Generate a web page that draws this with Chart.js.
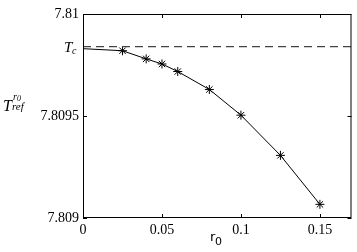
<!DOCTYPE html>
<html>
<head>
<meta charset="utf-8">
<script src="https://cdn.jsdelivr.net/npm/chart.js@4/dist/chart.umd.min.js"></script>
<style>
  html, body { margin: 0; padding: 0; background: #fff; }
  #wrap { width: 357px; height: 252px; }
</style>
</head>
<body>
<div id="wrap"><canvas id="myChart"></canvas></div>
<script>
var r0 = [0, 0.025, 0.04, 0.05, 0.06, 0.08, 0.1, 0.125, 0.15];
var tref = [7.80983, 7.80982, 7.80978, 7.809755, 7.809718, 7.80963, 7.809504, 7.809307, 7.809067];
var tc = 7.80984;
var xTicks = [0, 0.05, 0.1, 0.15];
var xLabels = ["0", "0.05", "0.1", "0.15"];
var yTicks = [7.809, 7.8095, 7.81];
var yLabels = ["7.809", "7.8095", "7.81"];

var serif = "'Liberation Serif', 'DejaVu Serif', serif";

// box, inward ticks and the math-style labels
var boxPlugin = {
  id: "box",
  afterDraw: function(chart) {
    var ctx = chart.ctx, a = chart.chartArea;
    var xs = chart.scales.x, ys = chart.scales.y;
    ctx.save();
    ctx.strokeStyle = "#000";
    ctx.lineWidth = 1;
    ctx.strokeRect(a.left + 0.5, a.top + 0.5, a.right - a.left - 1, a.bottom - a.top - 1);
    ctx.beginPath();
    xTicks.forEach(function(v) {
      var px = Math.round(xs.getPixelForValue(v)) + 0.5;
      ctx.moveTo(px, a.bottom); ctx.lineTo(px, a.bottom - 4);
      ctx.moveTo(px, a.top); ctx.lineTo(px, a.top + 4);
    });
    yTicks.forEach(function(v) {
      var py = Math.round(ys.getPixelForValue(v)) + 0.5;
      ctx.moveTo(a.left, py); ctx.lineTo(a.left + 4, py);
      ctx.moveTo(a.right, py); ctx.lineTo(a.right - 4, py);
    });
    ctx.stroke();

    ctx.fillStyle = "#000";
    ctx.textBaseline = "alphabetic";
    // T_c next to the dashed line
    var pc = ys.getPixelForValue(tc);
    ctx.font = "italic 15px " + serif;
    ctx.fillText("T", 64, pc + 5);
    ctx.font = "italic 10px " + serif;
    ctx.fillText("c", 72, pc + 7);

    // y title T_ref^r0
    ctx.font = "italic 16px " + serif;
    ctx.fillText("T", 3, 111);
    ctx.font = "italic 10px " + serif;
    ctx.fillText("r", 13, 100);
    ctx.font = "italic 8px " + serif;
    ctx.fillText("0", 17, 101);
    ctx.font = "italic 11px " + serif;
    ctx.fillText("ref", 12, 110);

    // x title r_0
    ctx.font = "13px 'DejaVu Sans', sans-serif";
    ctx.fillText("r", 210, 241);
    ctx.font = "11px 'DejaVu Sans', sans-serif";
    ctx.fillText("0", 215, 245);
    ctx.restore();
  }
};

document.addEventListener("DOMContentLoaded", function(e) {
  var ctx = document.getElementById("myChart");

  var points = r0.map(function(x, i) { return { x: x, y: tref[i] }; });
  var radii = r0.map(function(x, i) { return i === 0 ? 0 : 4.5; });

  var myChart = new Chart(ctx, {
    type: "line",
    data: {
      datasets: [
        {
          label: "Tc",
          data: [{ x: 0, y: tc }, { x: 0.17, y: tc }],
          borderColor: "#444",
          borderWidth: 1.2,
          borderDash: [8, 5],
          pointRadius: 0,
          fill: false
        },
        {
          label: "Tref",
          data: points,
          borderColor: "#000",
          borderWidth: 1,
          pointStyle: "star",
          pointRadius: radii,
          pointBorderColor: "#000",
          pointBorderWidth: 1,
          fill: false,
          lineTension: 0
        }
      ]
    },
    options: {
      responsive: true,
      maintainAspectRatio: false,
      animation: false,
      layout: { padding: { left: 0, top: 14, right: 5, bottom: 0 } },
      plugins: { legend: { display: false }, tooltip: { enabled: false } },
      scales: {
        x: {
          type: "linear",
          min: 0,
          max: 0.17,
          grid: { display: false, drawTicks: false },
          border: { display: false },
          afterBuildTicks: function(s) { s.ticks = xTicks.map(function(v) { return { value: v }; }); },
          afterFit: function(s) { s.height = 34; },
          ticks: {
            padding: 4,
            color: "#000",
            font: { family: serif, size: 14 },
            maxRotation: 0,
            callback: function(v) { return xLabels[xTicks.indexOf(v)]; }
          }
        },
        y: {
          type: "linear",
          min: 7.809,
          max: 7.81,
          grid: { display: false, drawTicks: false },
          border: { display: false },
          afterBuildTicks: function(s) { s.ticks = yTicks.map(function(v) { return { value: v }; }); },
          afterFit: function(s) { s.width = 83; },
          ticks: {
            padding: 4,
            color: "#000",
            font: { family: serif, size: 14 },
            callback: function(v) { return yLabels[yTicks.indexOf(v)]; }
          }
        }
      }
    },
    plugins: [boxPlugin]
  });
});
</script>
</body>
</html>
